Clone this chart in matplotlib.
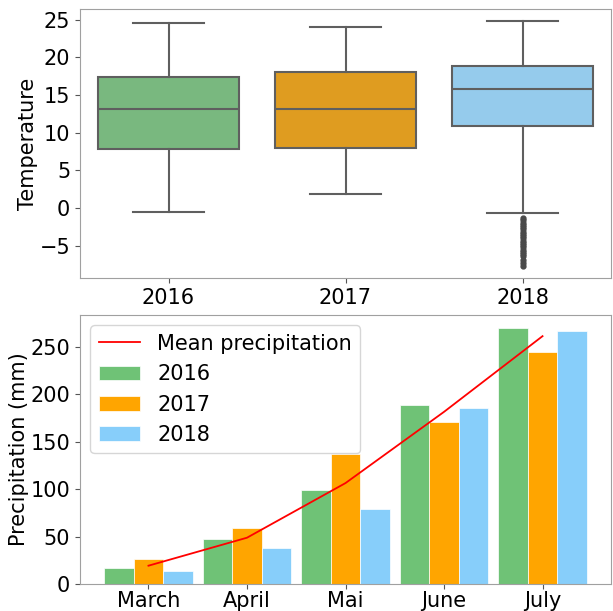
import numpy as np
import matplotlib
matplotlib.use("Agg")
import matplotlib.pyplot as plt
import seaborn as sns

years = ["2016", "2017", "2018"]
colors = ["#6fc276", "orange", "lightskyblue"]

# temperature box stats
t_whislo = [-0.5, 1.9, -0.7]
t_q1 = [7.8, 8.0, 10.9]
t_med = [13.1, 13.1, 15.8]
t_q3 = [17.4, 18.1, 18.8]
t_whishi = [24.6, 24.0, 24.8]
fliers_2018 = [-1.3, -1.6, -1.9, -2.2, -2.5, -2.8, -3.1, -3.4, -3.7, -4.0,
               -4.3, -4.6, -4.9, -5.2, -5.5, -5.8, -6.1, -6.4, -6.8, -7.2, -7.6]

months = ["March", "April", "Mai", "June", "July"]
p2016 = [16.9, 47.4, 99.4, 188.3, 270.1]
p2017 = [26.7, 59.4, 136.6, 170.3, 244.8]
p2018 = [13.7, 37.6, 78.7, 185.1, 266.6]
mean_precip = [19.3, 48.8, 106.4, 181.5, 261.3]

fs = 15
fig = plt.figure(figsize=(6.13, 6.11), dpi=100)
ax1 = fig.add_axes([80 / 613, 1 - 278 / 611, 531 / 613, 269 / 611])
ax2 = fig.add_axes([80 / 613, 1 - 584 / 611, 531 / 613, 269 / 611])

# boxplot
stats = []
for i in range(3):
    stats.append(dict(whislo=t_whislo[i], q1=t_q1[i], med=t_med[i], q3=t_q3[i],
                      whishi=t_whishi[i], fliers=fliers_2018 if i == 2 else []))
lc = "#5f5f5f"
bp = ax1.bxp(stats, positions=range(3), widths=0.8, patch_artist=True,
             boxprops=dict(edgecolor=lc, linewidth=1.5),
             whiskerprops=dict(color=lc, linewidth=1.5),
             capprops=dict(color=lc, linewidth=1.5),
             medianprops=dict(color=lc, linewidth=1.5),
             flierprops=dict(marker="o", markerfacecolor="#4a4a4a", markeredgecolor="#4a4a4a",
                             markersize=3.5))
for patch, c in zip(bp["boxes"], colors):
    patch.set_facecolor(sns.desaturate(c, 0.75))
ax1.set_xlim(-0.5, 2.5)
ax1.set_ylim(-9.25, 26.4)
ax1.set_xticks(range(3))
ax1.set_xticklabels(years, fontsize=fs)
ax1.set_yticks([-5, 0, 5, 10, 15, 20, 25])
ax1.tick_params(labelsize=fs)
ax1.set_ylabel("Temperature", fontsize=fs, labelpad=1)

# precipitation bars
x = np.arange(len(months))
w = 0.3
ax2.plot(x, mean_precip, color="red", linewidth=1.3, label="Mean precipitation", zorder=3)
ax2.bar(x - w, p2016, w, color=colors[0], edgecolor="white", linewidth=0.5, label="2016")
ax2.bar(x, p2017, w, color=colors[1], edgecolor="white", linewidth=0.5, label="2017")
ax2.bar(x + w, p2018, w, color=colors[2], edgecolor="white", linewidth=0.5, label="2018")
ax2.set_xticks(x)
ax2.set_xticklabels(months, fontsize=fs)
ax2.tick_params(labelsize=fs)
ax2.tick_params(axis="x", pad=1.5)
ax2.set_ylabel("Precipitation (mm)", fontsize=fs, labelpad=1)
ax2.legend(loc="upper left", fontsize=fs)

for ax in (ax1, ax2):
    for s in ax.spines.values():
        s.set_color("#a0a0a0")
    ax.tick_params(color="#555555")

fig.savefig("out.png", dpi=100)
